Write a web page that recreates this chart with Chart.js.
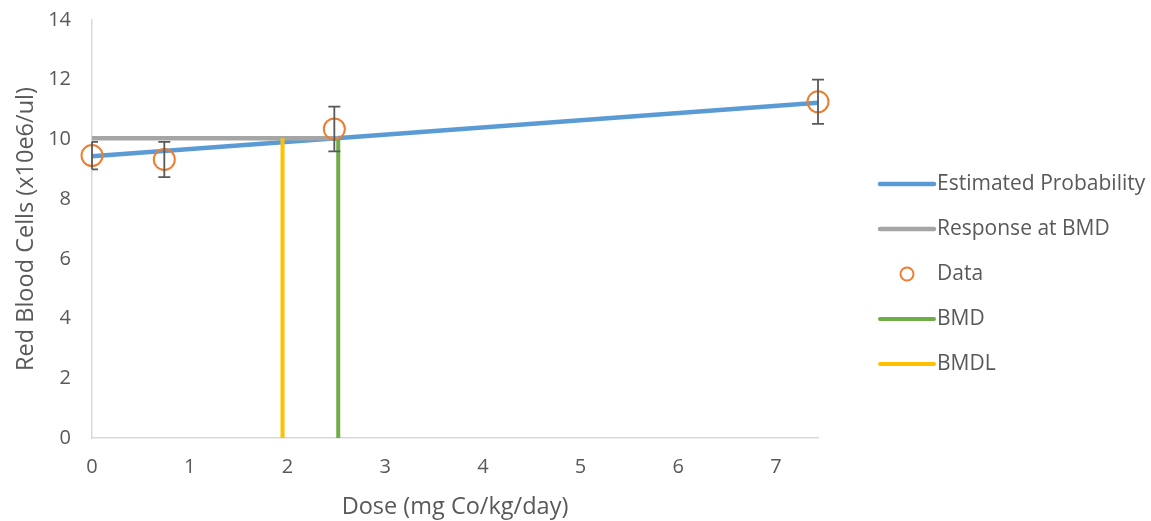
<!DOCTYPE html>
<html>
<head>
<meta charset="utf-8">
<script src="https://cdn.jsdelivr.net/npm/chart.js@4"></script>
<style>
  html, body { margin: 0; padding: 0; background: #fff; }
  #wrap { width: 1151px; height: 521px; }
</style>
</head>
<body>
<div id="wrap"><canvas id="rbc-chart" width="1151" height="521"></canvas></div>
<script>
// Red blood cell dose-response (BMD fit)

const doses = [0, 0.74, 2.48, 7.43];
const meanRbc = [9.46, 9.33, 10.35, 11.26];
const sdRbc = [0.46, 0.59, 0.75, 0.74];

const fitDose = [0, 7.43];
const fitRbc = [9.44, 11.23];

const bmd = 2.52;
const bmdl = 1.95;
const bmdResponse = 10.04;

const xTicks = [0, 1, 2, 3, 4, 5, 6, 7];
const yTicks = [0, 2, 4, 6, 8, 10, 12, 14];

const seriesNames = ['Estimated Probability', 'Response at BMD', 'Data', 'BMD', 'BMDL'];

const textColor = '#595959';
const fontFamily = '"Open Sans", Lato, sans-serif';

const toPts = (xs, ys) => xs.map((x, i) => ({ x, y: ys[i] }));

const datasets = [
  {
    label: seriesNames[0],
    data: toPts(fitDose, fitRbc),
    showLine: true,
    borderColor: '#5B9BD5',
    borderWidth: 4.5,
    pointRadius: 0,
    order: 5
  },
  {
    label: seriesNames[1],
    data: toPts([0, bmd], [bmdResponse, bmdResponse]),
    showLine: true,
    borderColor: '#A5A5A5',
    borderWidth: 4.5,
    pointRadius: 0,
    order: 4
  },
  {
    label: seriesNames[2],
    data: toPts(doses, meanRbc),
    showLine: false,
    borderColor: '#ED7D31',
    backgroundColor: 'rgba(0,0,0,0)',
    borderWidth: 2,
    pointRadius: 10.5,
    order: 1
  },
  {
    label: seriesNames[3],
    data: toPts([bmd, bmd], [0, bmdResponse]),
    showLine: true,
    borderColor: '#70AD47',
    borderWidth: 4,
    pointRadius: 0,
    order: 3
  },
  {
    label: seriesNames[4],
    data: toPts([bmdl, bmdl], [0, bmdResponse]),
    showLine: true,
    borderColor: '#FFC000',
    borderWidth: 4,
    pointRadius: 0,
    order: 2
  }
];
datasets.forEach(ds => { ds.clip = false; });

const errorBars = {
  id: 'errorBars',
  afterDatasetsDraw(chart) {
    const { ctx, scales: { x, y } } = chart;
    ctx.save();
    ctx.strokeStyle = textColor;
    ctx.lineWidth = 1.8;
    doses.forEach((d, i) => {
      const px = x.getPixelForValue(d);
      const top = y.getPixelForValue(meanRbc[i] + sdRbc[i]);
      const bot = y.getPixelForValue(meanRbc[i] - sdRbc[i]);
      const cap = 6;
      ctx.beginPath();
      ctx.moveTo(px, top); ctx.lineTo(px, bot);
      ctx.moveTo(Math.max(px - cap, x.left), top); ctx.lineTo(px + cap, top);
      ctx.moveTo(Math.max(px - cap, x.left), bot); ctx.lineTo(px + cap, bot);
      ctx.stroke();
    });
    ctx.restore();
  }
};

const sideLegend = {
  id: 'sideLegend',
  afterDraw(chart) {
    const { ctx, chartArea } = chart;
    const x0 = chartArea.right + 62;
    const lineLen = 54;
    ctx.save();
    ctx.font = '21px ' + fontFamily;
    ctx.textBaseline = 'middle';
    chart.data.datasets.forEach((ds, i) => {
      const cy = 184 + i * 45;
      if (ds.showLine) {
        ctx.strokeStyle = ds.borderColor;
        ctx.lineWidth = ds.borderWidth;
        ctx.lineCap = 'round';
        ctx.beginPath();
        ctx.moveTo(x0, cy); ctx.lineTo(x0 + lineLen, cy);
        ctx.stroke();
      } else {
        ctx.strokeStyle = ds.borderColor;
        ctx.lineWidth = 2;
        ctx.beginPath();
        ctx.arc(x0 + lineLen / 2, cy, 6.5, 0, Math.PI * 2);
        ctx.stroke();
      }
      ctx.fillStyle = textColor;
      ctx.fillText(ds.label, x0 + lineLen + 3, cy);
    });
    ctx.restore();
  }
};

new Chart(document.getElementById('rbc-chart'), {
  type: 'scatter',
  data: { datasets },
  options: {
    responsive: false,
    animation: false,
    layout: { autoPadding: false, padding: { top: 20, right: 333, bottom: 0, left: 0 } },
    plugins: {
      legend: { display: false },
      tooltip: { enabled: false }
    },
    scales: {
      x: {
        type: 'linear',
        min: 0,
        max: 7.43,
        afterBuildTicks: s => { s.ticks = xTicks.map(v => ({ value: v })); },
        afterFit: s => { s.height = 83; s.paddingLeft = 0; s.paddingRight = 0; },
        grid: { display: false, drawTicks: false },
        border: { display: true, color: '#D9D9D9', width: 1.5 },
        ticks: { color: textColor, font: { family: fontFamily, size: 20 }, padding: 17 },
        title: {
          display: true,
          text: 'Dose (mg Co/kg/day)',
          color: textColor,
          font: { family: fontFamily, size: 23.5 },
          padding: { top: 0, bottom: 0 }
        }
      },
      y: {
        min: 0,
        max: 14,
        afterBuildTicks: s => { s.ticks = yTicks.map(v => ({ value: v })); },
        afterFit: s => { s.width = 92; s.paddingTop = 0; s.paddingBottom = 0; },
        grid: { display: false, drawTicks: false },
        border: { display: true, color: '#D9D9D9', width: 1.5 },
        ticks: { color: textColor, font: { family: fontFamily, size: 20 }, padding: 21 },
        title: {
          display: true,
          text: 'Red Blood Cells (x10e6/ul)',
          color: textColor,
          font: { family: fontFamily, size: 23.5 },
          padding: { top: 12, bottom: 0 }
        }
      }
    }
  },
  plugins: [errorBars, sideLegend]
});
</script>
</body>
</html>
